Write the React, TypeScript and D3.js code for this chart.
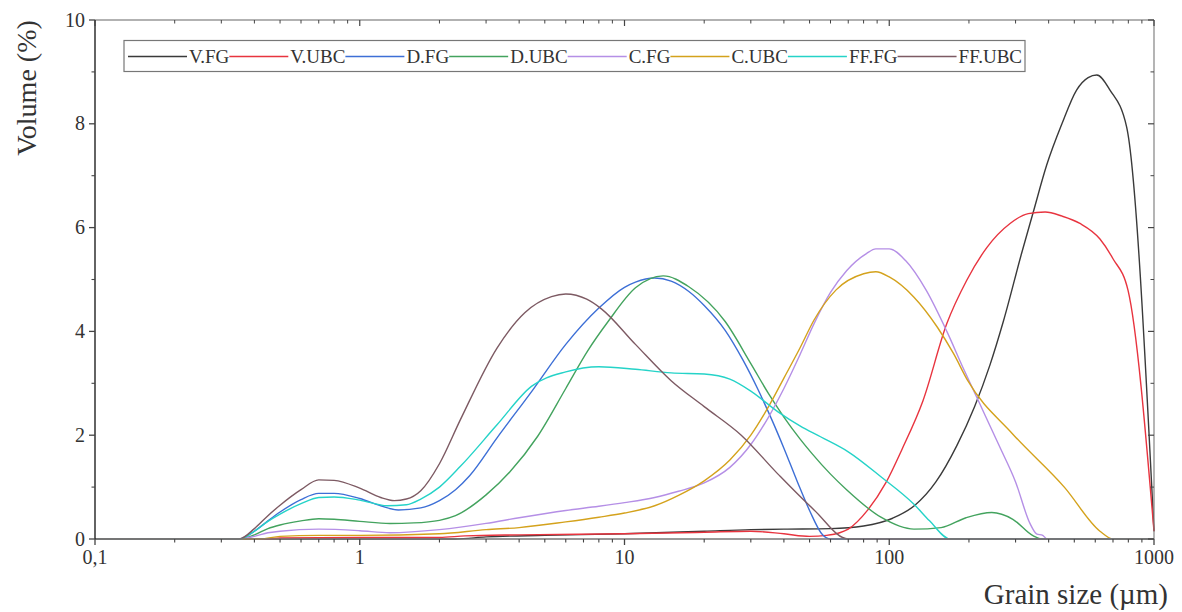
import React, { useEffect, useRef } from "react";
import * as d3 from "d3";

type P = [number, number];

const seriesNames = ["V.FG", "V.UBC", "D.FG", "D.UBC", "C.FG", "C.UBC", "FF.FG", "FF.UBC"];
const seriesColors = ["#3a3a3a", "#e8343f", "#3d6fd6", "#43a35e", "#b58fe6", "#d4a21c", "#25d3c8", "#7d5a63"];

const VFG: P[] = [[0.1,0],[2.3,0],[3,0.04],[5,0.07],[10,0.1],[20,0.15],[30,0.18],[40,0.19],[60,0.2],[80,0.25],[103,0.4],[125,0.65],[150,1.1],[180,1.8],[210,2.55],[240,3.35],[270,4.2],[316,5.5],[350,6.3],[393,7.2],[449,8.0],[510,8.65],[564,8.89],[608,8.94],[682,8.65],[788,7.94],[1000,0.15]];
const VUBC: P[] = [[0.1,0],[0.45,0],[0.5,0.02],[1,0.03],[2,0.03],[2.5,0.06],[4,0.08],[10,0.1],[20,0.13],[30,0.15],[40,0.1],[50,0.05],[58,0.07],[65,0.12],[70,0.19],[83,0.56],[97,1.08],[112,1.74],[134,2.66],[165,4.15],[196,4.98],[234,5.62],[286,6.08],[335,6.27],[388,6.3],[450,6.22],[525,6.08],[625,5.78],[700,5.4],[798,4.79],[1000,0.15]];
const DFG: P[] = [[0.1,0],[0.35,0],[0.4,0.15],[0.45,0.35],[0.5,0.52],[0.6,0.76],[0.7,0.88],[0.8,0.88],[1.0,0.78],[1.2,0.64],[1.4,0.56],[1.7,0.6],[2.0,0.74],[2.3,0.95],[2.6,1.22],[3.3,1.95],[4.5,2.87],[6,3.75],[8,4.45],[10,4.85],[11,4.95],[13,5.03],[15,4.97],[17.5,4.77],[20,4.5],[24,4.02],[28,3.45],[32,2.87],[36,2.3],[40,1.75],[45,1.1],[50,0.55],[56,0.08],[60,0],[1000,0]];
const DUBC: P[] = [[0.1,0],[0.35,0],[0.4,0.08],[0.45,0.2],[0.5,0.27],[0.6,0.35],[0.7,0.39],[0.8,0.38],[1.0,0.34],[1.3,0.3],[1.6,0.31],[2.0,0.36],[2.3,0.45],[3.0,0.85],[3.7,1.3],[4.7,1.98],[6,2.9],[7.25,3.62],[8.7,4.2],[11,4.84],[14,5.07],[17.5,4.86],[24,4.19],[30,3.38],[35,2.8],[40,2.35],[46,1.93],[51,1.65],[60,1.25],[69,0.95],[93,0.42],[124,0.19],[157,0.22],[195,0.41],[244,0.51],[293,0.38],[350,0.06],[380,0],[1000,0]];
const CFG: P[] = [[0.1,0],[0.35,0],[0.4,0.05],[0.45,0.12],[0.5,0.15],[0.7,0.19],[1.0,0.16],[1.3,0.12],[2,0.18],[3,0.3],[4,0.41],[6,0.55],[8,0.63],[10,0.7],[13,0.8],[16,0.92],[20,1.08],[25,1.38],[30,1.82],[35,2.35],[40,2.9],[46,3.55],[52,4.15],[60,4.75],[69,5.17],[82,5.5],[89,5.59],[100,5.59],[115,5.37],[138,4.79],[165,4.0],[190,3.3],[220,2.6],[260,1.8],[300,1.1],[340,0.3],[360,0.1],[380,0.07],[395,0],[1000,0]];
const CUBC: P[] = [[0.1,0],[0.42,0],[0.5,0.05],[0.7,0.07],[1,0.07],[2,0.1],[3,0.18],[4,0.22],[6,0.33],[8,0.42],[10,0.5],[13,0.64],[16,0.84],[20,1.12],[25,1.52],[30,2.0],[35,2.55],[40,3.1],[46,3.68],[52,4.22],[63,4.8],[80,5.11],[89,5.15],[100,5.05],[124,4.66],[152,4.08],[175,3.57],[198,3.05],[293,2.02],[460,0.99],[625,0.15],[700,0],[1000,0]];
const FFFG: P[] = [[0.1,0],[0.35,0],[0.4,0.15],[0.45,0.34],[0.5,0.48],[0.6,0.68],[0.7,0.8],[0.8,0.81],[1.0,0.75],[1.27,0.64],[1.5,0.66],[1.7,0.77],[2.0,1.0],[2.4,1.4],[3.3,2.2],[4.45,2.94],[6,3.22],[8,3.32],[11,3.27],[15,3.2],[20,3.18],[25,3.08],[30,2.85],[38,2.45],[46,2.18],[55,1.97],[70,1.68],[93,1.2],[124,0.67],[142,0.35],[170,0],[1000,0]];
const FFUBC: P[] = [[0.1,0],[0.35,0],[0.4,0.2],[0.45,0.45],[0.5,0.65],[0.6,0.95],[0.7,1.14],[0.8,1.13],[1.0,0.98],[1.2,0.8],[1.35,0.74],[1.5,0.77],[1.7,0.93],[2.0,1.45],[2.4,2.3],[3.3,3.68],[4.2,4.36],[5.3,4.67],[6,4.72],[7.2,4.62],[8.2,4.43],[11,3.75],[15,3.05],[20,2.55],[27.6,2.0],[38,1.25],[52,0.56],[70,0],[1000,0]];

const seriesData: P[][] = [VFG, VUBC, DFG, DUBC, CFG, CUBC, FFFG, FFUBC];

const xMajorTicks = [0.1, 1, 10, 100, 1000];
const xTickLabels = ["0,1", "1", "10", "100", "1000"];
const yMajorTicks = [0, 2, 4, 6, 8, 10];
const yTickLabels = ["0", "2", "4", "6", "8", "10"];
const yMinorTicks = [1, 3, 5, 7, 9];

const FONT = "'Liberation Serif', 'Times New Roman', serif";

export default function App() {
  const ref = useRef<SVGSVGElement | null>(null);

  useEffect(() => {
    const svg = d3.select(ref.current);
    svg.selectAll("*").remove();
    const W = 1182, H = 612;
    const L = 95, R = 1154, T = 20, B = 539;
    const x = d3.scaleLog().domain([0.1, 1000]).range([L, R]);
    const y = d3.scaleLinear().domain([0, 10]).range([B, T]);

    svg.append("rect").attr("width", W).attr("height", H).attr("fill", "#fff");

    const line = d3.line<P>().x(d => x(d[0])).y(d => y(d[1])).curve(d3.curveMonotoneX);
    const g = svg.append("g");
    seriesData.forEach((data, i) => {
      g.append("path").attr("d", line(data) as string).attr("fill", "none")
        .attr("stroke", seriesColors[i]).attr("stroke-width", 1.4).attr("stroke-linejoin", "round");
    });

    const xMinor: number[] = [];
    [0.1, 1, 10, 100].forEach(d => { for (let k = 2; k <= 9; k++) xMinor.push(d * k); });

    const ax = svg.append("g").attr("stroke", "#444").attr("fill", "none");
    ax.append("line").attr("x1", L).attr("x2", R).attr("y1", B).attr("y2", B).attr("stroke", "#777").attr("stroke-width", 1.3);
    ax.append("line").attr("x1", L).attr("x2", R).attr("y1", T).attr("y2", T).attr("stroke", "#666").attr("stroke-width", 1.1);
    ax.append("line").attr("x1", R).attr("x2", R).attr("y1", T).attr("y2", B).attr("stroke", "#777").attr("stroke-width", 1.1);
    ax.append("line").attr("x1", L).attr("x2", L).attr("y1", T).attr("y2", B).attr("stroke", "#222").attr("stroke-width", 1.4);

    xMajorTicks.forEach(v => {
      ax.append("line").attr("x1", x(v)).attr("x2", x(v)).attr("y1", B).attr("y2", B + 6).attr("stroke-width", 1.3);
      ax.append("line").attr("x1", x(v)).attr("x2", x(v)).attr("y1", T).attr("y2", T + 6).attr("stroke-width", 1.2);
    });
    xMinor.forEach(v => {
      ax.append("line").attr("x1", x(v)).attr("x2", x(v)).attr("y1", B).attr("y2", B + 3.5).attr("stroke-width", 1.1);
      ax.append("line").attr("x1", x(v)).attr("x2", x(v)).attr("y1", T).attr("y2", T + 3.5).attr("stroke-width", 1);
    });
    yMajorTicks.forEach(v => {
      ax.append("line").attr("x1", L - 6).attr("x2", L).attr("y1", y(v)).attr("y2", y(v)).attr("stroke-width", 1.3);
      ax.append("line").attr("x1", R - 6).attr("x2", R).attr("y1", y(v)).attr("y2", y(v)).attr("stroke-width", 1.2);
    });
    yMinorTicks.forEach(v => {
      ax.append("line").attr("x1", L - 3.5).attr("x2", L).attr("y1", y(v)).attr("y2", y(v)).attr("stroke-width", 1.1);
      ax.append("line").attr("x1", R - 3.5).attr("x2", R).attr("y1", y(v)).attr("y2", y(v)).attr("stroke-width", 1);
    });

    const tg = svg.append("g").attr("font-family", FONT).attr("fill", "#333");
    xMajorTicks.forEach((v, i) => {
      tg.append("text").attr("x", x(v)).attr("y", 564).attr("text-anchor", "middle")
        .attr("font-size", 20).text(xTickLabels[i]);
    });
    yMajorTicks.forEach((v, i) => {
      tg.append("text").attr("x", L - 10).attr("y", y(v)).attr("dy", "0.33em").attr("text-anchor", "end")
        .attr("font-size", 20).text(yTickLabels[i]);
    });
    tg.append("text").attr("x", 1168).attr("y", 604).attr("text-anchor", "end")
      .attr("font-size", 29).text("Grain size (µm)");
    tg.append("text").attr("transform", "translate(36,88) rotate(-90)").attr("text-anchor", "middle")
      .attr("font-size", 28).text("Volume (%)");

    const lx0 = 124, lx1 = 1025, ly0 = 40.5, ly1 = 71.5;
    const lg = svg.append("g");
    lg.append("rect").attr("x", lx0).attr("y", ly0).attr("width", lx1 - lx0).attr("height", ly1 - ly0)
      .attr("fill", "#fff").attr("stroke", "#777").attr("stroke-width", 1.2);
    const texts = seriesNames.map(n => lg.append("text").attr("font-family", FONT).attr("font-size", 19)
      .attr("fill", "#333").attr("y", 63).text(n));
    const widths = texts.map(t => (t.node() as SVGTextElement).getComputedTextLength());
    const gap = 2;
    const start = lx0 + 4, end = lx1 - 3;
    const lineLen = (end - start - d3.sum(widths) - gap * seriesNames.length) / seriesNames.length;
    let cx = start;
    seriesNames.forEach((n, i) => {
      lg.append("line").attr("x1", cx).attr("x2", cx + lineLen).attr("y1", 56.5).attr("y2", 56.5)
        .attr("stroke", seriesColors[i]).attr("stroke-width", 1.4);
      texts[i].attr("x", cx + lineLen + gap);
      cx += lineLen + gap + widths[i];
    });
  }, []);

  return (
    <svg ref={ref} width={1182} height={612}
      style={{ position: "absolute", left: 0, top: 0, display: "block" }} />
  );
}
